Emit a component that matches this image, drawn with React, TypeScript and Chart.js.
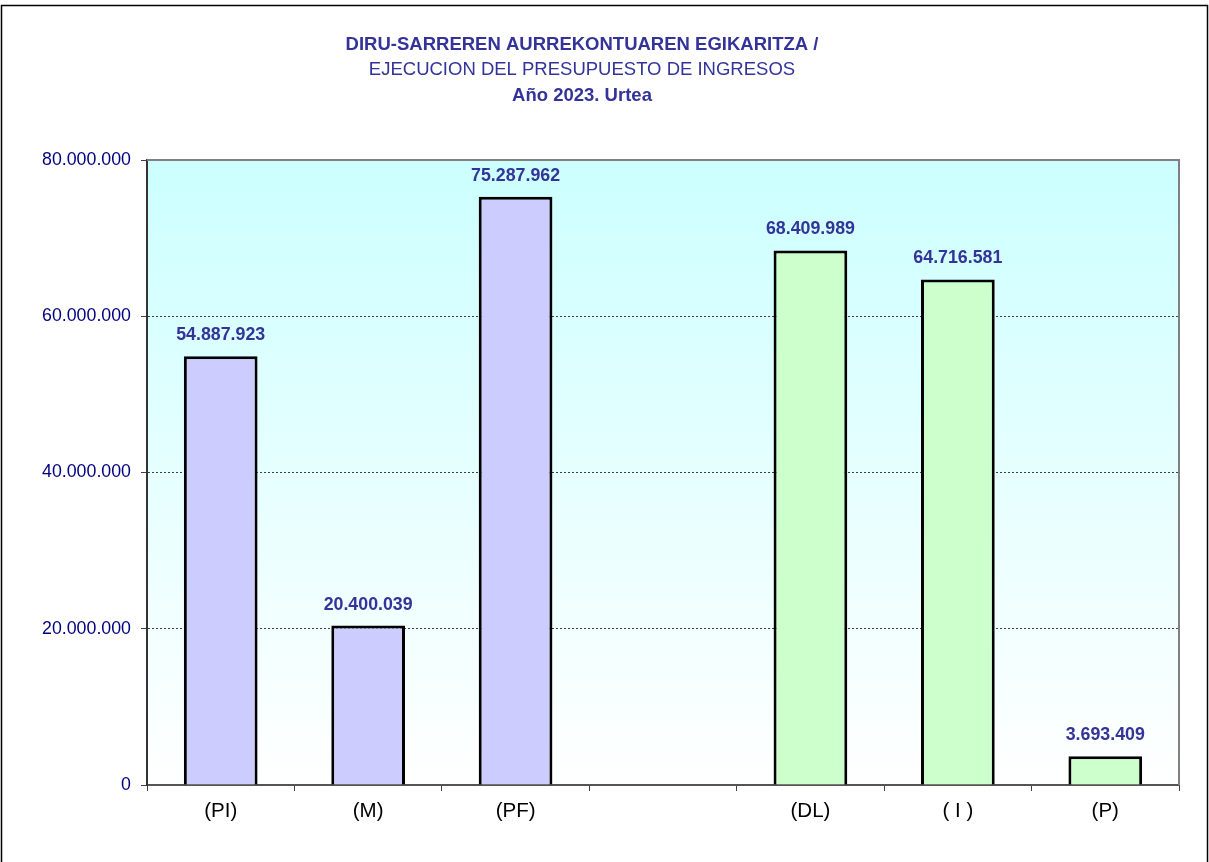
import React, { useEffect, useRef } from 'react';
import { Chart, registerables } from 'chart.js';

Chart.register(...registerables);

const categories = ['(PI)', '(M)', '(PF)', '', '(DL)', '( I )', '(P)'];
const values: (number | null)[] = [54887923, 20400039, 75287962, null, 68409989, 64716581, 3693409];
const barColors = ['#CCCCFF', '#CCCCFF', '#CCCCFF', '#FFFFFF', '#CCFFCC', '#CCFFCC', '#CCFFCC'];
const titleLines = [
  'DIRU-SARREREN AURREKONTUAREN EGIKARITZA /',
  'EJECUCION DEL PRESUPUESTO DE INGRESOS',
  'Año 2023. Urtea',
];
const yMin = 0;
const yMax = 80000000;
const yStep = 20000000;

const FONT = "'Liberation Sans', Arial, sans-serif";

function fmt(n: number): string {
  return String(Math.round(n)).replace(/\B(?=(\d{3})+(?!\d))/g, '.');
}

const decorPlugin = {
  id: 'decor',
  beforeDraw(chart: any) {
    const { ctx, chartArea, width, height } = chart;
    ctx.save();
    ctx.fillStyle = '#FFFFFF';
    ctx.fillRect(0, 0, width, height);
    // outer frame
    ctx.strokeStyle = '#000000';
    ctx.lineWidth = 1.5;
    ctx.strokeRect(1.5, 5.5, width - 3, height + 20);
    // plot background gradient
    const g = ctx.createLinearGradient(0, chartArea.top, 0, chartArea.bottom);
    g.addColorStop(0, '#CCFFFF');
    g.addColorStop(1, '#FFFFFF');
    ctx.fillStyle = g;
    ctx.fillRect(chartArea.left, chartArea.top, chartArea.right - chartArea.left, chartArea.bottom - chartArea.top);
    ctx.restore();
  },
  afterDatasetsDraw(chart: any) {
    const { ctx } = chart;
    const meta = chart.getDatasetMeta(0);
    ctx.save();
    ctx.font = `bold 17.8px ${FONT}`;
    ctx.fillStyle = '#333399';
    ctx.textAlign = 'center';
    ctx.textBaseline = 'middle';
    meta.data.forEach((el: any, i: number) => {
      const v = values[i];
      if (v === null || v === undefined) return;
      ctx.fillText(fmt(v), el.x, el.y - 21);
    });
    ctx.restore();
  },
  afterDraw(chart: any) {
    const { ctx, chartArea } = chart;
    ctx.save();
    // top & right plot border
    ctx.strokeStyle = '#808080';
    ctx.lineWidth = 2;
    ctx.beginPath();
    ctx.moveTo(chartArea.left, chartArea.top);
    ctx.lineTo(chartArea.right, chartArea.top);
    ctx.lineTo(chartArea.right, chartArea.bottom);
    ctx.stroke();
    // title
    ctx.fillStyle = '#333399';
    ctx.textAlign = 'center';
    ctx.textBaseline = 'middle';
    const cx = 582;
    ctx.font = `bold 18.5px ${FONT}`;
    ctx.fillText(titleLines[0], cx, 45);
    ctx.font = `18.5px ${FONT}`;
    ctx.fillText(titleLines[1], cx, 70);
    ctx.font = `bold 18.5px ${FONT}`;
    ctx.fillText(titleLines[2], cx, 96);
    ctx.restore();
  },
};

export default function App() {
  const ref = useRef<HTMLCanvasElement | null>(null);

  useEffect(() => {
    if (!ref.current) return;
    const chart = new Chart(ref.current, {
      type: 'bar',
      data: {
        labels: categories,
        datasets: [
          {
            data: values as any,
            backgroundColor: barColors,
            borderColor: '#000000',
            borderWidth: 3,
            barPercentage: 0.5,
            categoryPercentage: 1,
          },
        ],
      },
      options: {
        responsive: false,
        animation: false,
        devicePixelRatio: 1,
        layout: { padding: { left: 0, top: 160, right: 30, bottom: 0 } },
        plugins: {
          legend: { display: false },
          title: { display: false },
          tooltip: { enabled: false },
        },
        scales: {
          x: {
            offset: true,
            grid: {
              offset: true,
              drawOnChartArea: false,
              drawTicks: true,
              tickLength: 6,
              tickColor: '#404040',
              tickWidth: 1,
            },
            border: { display: true, color: '#555555', width: 2 },
            ticks: {
              color: '#000000',
              font: { family: FONT, size: 20.5 },
              padding: 8,
              maxRotation: 0,
              autoSkip: false,
            },
            afterFit(scale: any) {
              scale.height = 77;
            },
          },
          y: {
            min: yMin,
            max: yMax,
            grid: {
              color: (c: any) =>
                c.tick && (c.tick.value === yMin || c.tick.value === yMax) ? 'rgba(0,0,0,0)' : '#404040',
              lineWidth: 1,
              drawTicks: true,
              tickLength: 6,
              tickColor: '#404040',
            },
            border: { display: true, color: '#333333', width: 2, dash: [2, 2] },
            ticks: {
              stepSize: yStep,
              color: '#000080',
              font: { family: FONT, size: 17.8 },
              padding: 10,
              callback: (v: any) => fmt(Number(v)),
            },
            afterFit(scale: any) {
              scale.width = 147;
            },
          },
        },
      },
      plugins: [decorPlugin],
    });
    return () => chart.destroy();
  }, []);

  return (
    <div style={{ position: 'fixed', left: 0, top: 0, width: 1209, height: 862, overflow: 'hidden' }}>
      <canvas ref={ref} width={1209} height={862} style={{ display: 'block', width: 1209, height: 862 }} />
    </div>
  );
}
